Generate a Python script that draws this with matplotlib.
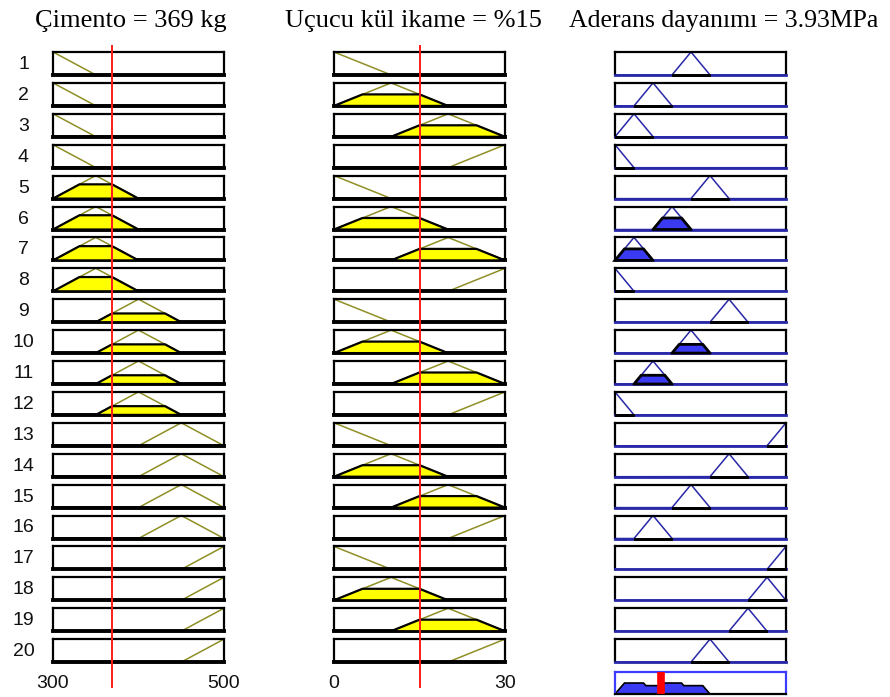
import numpy as np
import matplotlib
matplotlib.use("Agg")
import matplotlib.pyplot as plt

# --- data ---
cement_range = [300, 500]
cement_mfs = [[250, 300, 350], [300, 350, 400], [350, 400, 450],
              [400, 450, 500], [450, 500, 550]]
ash_range = [0, 30]
ash_mfs = [[-10, 0, 10], [0, 10, 20], [10, 20, 30], [20, 30, 40]]
out_centers = [0, 1/9, 2/9, 3/9, 4/9, 5/9, 6/9, 7/9, 8/9, 1]   # normalised output range
out_halfwidth = 1/9

cement_in = 369
ash_in = 15

# rule table: (cement mf, ash mf, output mf)
rule_cement = [0]*4 + [1]*4 + [2]*4 + [3]*4 + [4]*4
rule_ash = [0, 1, 2, 3] * 5
rule_out = [4, 2, 1, 0, 5, 3, 1, 0, 6, 4, 2, 0, 9, 6, 4, 2, 9, 8, 7, 5]

titles = ["Çimento = 369 kg", "Uçucu kül ikame = %15", "Aderans dayanımı = 3.93MPa"]

W, H = 890, 697
OLIVE = "#8f8f26"
NAVY = "#2828a8"
BLUE = "#3a3af2"


def trimf(x, abc):
    a, b, c = abc
    left = np.where(b > a, (x - a) / (b - a + 1e-12), 1.0)
    right = np.where(c > b, (c - x) / (c - b + 1e-12), 1.0)
    return np.clip(np.minimum(left, right), 0, 1)


def px_axes(fig, x0, y0, w, h):
    return fig.add_axes([x0 / W, 1 - (y0 + h) / H, w / W, h / H])


def frame(ax, color="black", bottom=None, bottom_lw=1.6):
    ax.set_xticks([])
    ax.set_yticks([])
    for s in ax.spines.values():
        s.set_color(color)
        s.set_linewidth(1.6)
    ax.spines["bottom"].set_linewidth(bottom_lw)
    if bottom:
        ax.spines["bottom"].set_color(bottom)


fig = plt.figure(figsize=(W / 100, H / 100), dpi=100)

col_x = [53, 334, 615]
col_w = 171
row_top0, row_step, row_h = 52, 30.9, 23

mu_cement = [trimf(np.array(cement_in, float), m) for m in cement_mfs]
mu_ash = [trimf(np.array(ash_in, float), m) for m in ash_mfs]

xc = np.linspace(*cement_range, 801)
xa = np.linspace(*ash_range, 801)
xo = np.linspace(0, 1, 1001)

agg = np.zeros_like(xo)
for i in range(20):
    top = row_top0 + i * row_step
    fig.text(23.5 / W, 1 - (top + row_h / 2 + 1) / H, str(i + 1), ha="center", va="center",
             fontsize=14, family="Liberation Sans", color="#111111")

    # inputs
    for col, (xx, mfs, mu, idx) in enumerate([(xc, cement_mfs, mu_cement, rule_cement[i]),
                                             (xa, ash_mfs, mu_ash, rule_ash[i])]):
        ax = px_axes(fig, col_x[col], top, col_w, row_h)
        y = trimf(xx, mfs[idx])
        ax.plot(xx, y, color=OLIVE, lw=1.1, zorder=2, clip_on=False)
        yt = np.minimum(y, mu[idx])
        ax.fill(np.r_[xx, xx[::-1]], np.r_[yt, np.zeros_like(xx)], facecolor="#ffff00",
                edgecolor="black", lw=1.6, zorder=3)
        ax.set_xlim(xx[0], xx[-1])
        ax.set_ylim(0, 1)
        frame(ax, bottom_lw=2.8)

    # output
    fire = min(mu_cement[rule_cement[i]], mu_ash[rule_ash[i]])
    c = out_centers[rule_out[i]]
    mf = [c - out_halfwidth, c, c + out_halfwidth]
    ax = px_axes(fig, col_x[2], top, col_w, row_h)
    y = trimf(xo, mf)
    ax.plot(xo, y, color=NAVY, lw=1.1, zorder=2, clip_on=False)
    sup = (xo >= mf[0]) & (xo <= mf[2])
    xs = xo[sup]
    yt = np.minimum(y[sup], fire)
    ax.fill(np.r_[xs, xs[::-1]], np.r_[yt, np.zeros_like(xs)], facecolor=BLUE,
            edgecolor="black", lw=2.0, zorder=3, clip_on=False)
    agg = np.maximum(agg, np.minimum(y, fire))
    ax.set_xlim(0, 1)
    ax.set_ylim(0, 1)
    frame(ax, bottom=NAVY, bottom_lw=2.0)

# aggregated output
centroid = np.sum(xo * agg) / np.sum(agg)
ax = px_axes(fig, col_x[2], 672, col_w, 22)
ax.fill(np.r_[xo, xo[::-1]], np.r_[agg, np.zeros_like(xo)], facecolor=BLUE,
        edgecolor="black", lw=1.2, zorder=2)
ax.axvline(centroid, color="red", lw=5.5, zorder=4)
ax.set_xlim(0, 1)
ax.set_ylim(0, 1)
frame(ax, color="#3c3cff", bottom="black")

# input red lines and tick labels
for col, (rng, val) in enumerate([(cement_range, cement_in), (ash_range, ash_in)]):
    ov = px_axes(fig, col_x[col], 45, col_w, 643)
    ov.set_xlim(*rng)
    ov.set_ylim(0, 1)
    ov.axvline(val, color="#ff1a1a", lw=1.4)
    ov.axis("off")
    ov.patch.set_alpha(0)
    for k, v in enumerate(rng):
        fig.text((col_x[col] + k * col_w) / W, 1 - 683 / H, str(v), ha="center", va="center",
                 fontsize=14, family="Liberation Sans", color="#111111")

# titles
title_x = [131, 413, 724]
title_fs = [19, 19, 18.5]
for t, x, fs in zip(titles, title_x, title_fs):
    fig.text(x / W, 1 - 27 / H, t, ha="center", va="baseline", fontsize=fs,
             family="Liberation Serif")

fig.savefig("out.png", dpi=100)
